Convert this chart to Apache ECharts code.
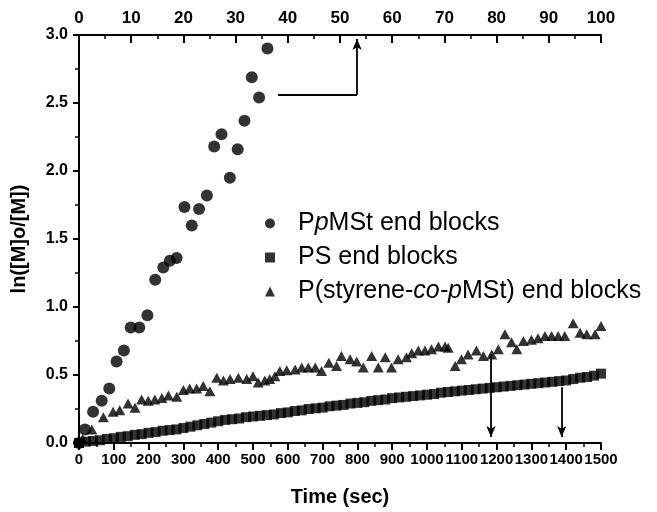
<html>
  <head>
    <meta charset="utf-8" />
    <title>ln([M]o/[M]) vs time</title>
    <script src="https://cdn.jsdelivr.net/npm/echarts@6/dist/echarts.min.js"></script>
  </head>
  <body style="margin:0;background:#fff;">
    <div id="main" style="width:657px;height:512px;"></div>
    <script type="text/javascript">
      // PpMSt end blocks, read against the top axis (0-100)
      var circleX = [0, 1.15, 2.7, 4.35, 5.8, 7.2, 8.6, 9.9, 11.55, 13.1, 14.6, 16.15, 17.4, 18.7,
        20.2, 21.6, 23.0, 24.5, 25.9, 27.3, 28.9, 30.4, 31.7, 33.1, 34.5, 36.1];
      var circleY = [0, 0.10, 0.23, 0.31, 0.40, 0.60, 0.68, 0.85, 0.85, 0.94, 1.20, 1.29, 1.34, 1.36,
        1.735, 1.60, 1.72, 1.82, 2.18, 2.27, 1.95, 2.16, 2.37, 2.69, 2.54, 2.90];

      // PS end blocks (sec)
      var squareX = [0, 20, 40, 60, 80, 100, 120, 140, 160, 180, 200, 220, 240, 260, 280, 300, 320, 340,
        360, 380, 400, 420, 440, 460, 480, 500, 520, 540, 560, 580, 600, 620, 640, 660, 680, 700, 720,
        740, 760, 780, 800, 820, 840, 860, 880, 900, 920, 940, 960, 980, 1000, 1020, 1040, 1060, 1080,
        1100, 1120, 1140, 1160, 1180, 1200, 1220, 1240, 1260, 1280, 1300, 1320, 1340, 1360, 1380, 1400,
        1420, 1440, 1460, 1480, 1500];
      var squareY = [0, 0.01, 0.015, 0.02, 0.03, 0.035, 0.045, 0.05, 0.06, 0.065, 0.075, 0.08, 0.09,
        0.095, 0.10, 0.11, 0.12, 0.13, 0.14, 0.15, 0.16, 0.17, 0.175, 0.18, 0.19, 0.195, 0.20, 0.205,
        0.21, 0.22, 0.225, 0.235, 0.24, 0.25, 0.255, 0.26, 0.27, 0.275, 0.28, 0.29, 0.295, 0.30, 0.31,
        0.315, 0.32, 0.33, 0.335, 0.34, 0.345, 0.35, 0.355, 0.36, 0.37, 0.375, 0.38, 0.385, 0.39, 0.395,
        0.40, 0.405, 0.41, 0.415, 0.42, 0.425, 0.43, 0.435, 0.44, 0.445, 0.45, 0.455, 0.46, 0.47, 0.48,
        0.485, 0.495, 0.51];

      // P(styrene-co-pMSt) end blocks (sec)
      var triX = [0, 10, 37, 70, 98, 117, 141, 161, 180, 199, 218, 238, 257, 281, 300, 318, 338, 357,
        376, 396, 415, 434, 458, 482, 500, 515, 534, 548, 563, 577, 597, 621, 640, 659, 679, 697, 718,
        740, 754, 779, 798, 817, 841, 860, 880, 898, 917, 941, 956, 975, 994, 1013, 1033, 1052, 1061,
        1081, 1099, 1118, 1142, 1162, 1186, 1205, 1224, 1243, 1258, 1277, 1300, 1319, 1339, 1358, 1377,
        1396, 1420, 1440, 1459, 1483, 1500];
      var triY = [0, 0.03, 0.10, 0.19, 0.23, 0.24, 0.29, 0.26, 0.32, 0.31, 0.32, 0.33, 0.35, 0.34, 0.39,
        0.40, 0.40, 0.42, 0.38, 0.48, 0.46, 0.47, 0.48, 0.47, 0.49, 0.445, 0.46, 0.47, 0.49, 0.53, 0.535,
        0.54, 0.555, 0.555, 0.555, 0.53, 0.59, 0.567, 0.64, 0.615, 0.60, 0.555, 0.64, 0.555, 0.63, 0.555,
        0.615, 0.63, 0.66, 0.68, 0.68, 0.69, 0.71, 0.71, 0.70, 0.567, 0.615, 0.65, 0.68, 0.64, 0.65, 0.69,
        0.80, 0.74, 0.69, 0.75, 0.76, 0.77, 0.786, 0.786, 0.786, 0.786, 0.88, 0.81, 0.80, 0.80, 0.86];

      var seriesNames = ['PpMSt end blocks', 'PS end blocks', 'P(styrene-co-pMSt) end blocks'];
      var yTicks = [0, 0.5, 1.0, 1.5, 2.0, 2.5, 3.0];

      // arrow annotations [x1, y1, x2, y2] in sec / ln units; last flag = draw arrow head
      var arrows = [
        [572, 2.56, 799, 2.56, false],
        [799, 2.56, 799, 2.97, true],
        [1184, 0.65, 1184, 0.045, true],
        [1387, 0.41, 1387, 0.045, true]
      ];

      function pairs(xs, ys) {
        return xs.map(function (x, i) { return [x, ys[i]]; });
      }

      var font = 'Liberation Sans, Arial, sans-serif';
      var myChart = echarts.init(document.getElementById('main'));

      var option = {
        animation: false,
        backgroundColor: '#fff',
        grid: { left: 79, right: 56, top: 35, bottom: 66 },
        legend: {
          orient: 'vertical',
          left: 260,
          top: 206,
          itemWidth: 10,
          itemHeight: 10,
          itemGap: 9,
          selectedMode: false,
          data: [
            { name: seriesNames[0], icon: 'circle' },
            { name: seriesNames[1], icon: 'rect' },
            { name: seriesNames[2], icon: 'triangle' }
          ],
          formatter: function (name) {
            if (name === seriesNames[0]) return '{g|}{n|P}{i|p}{n|MSt end blocks}';
            if (name === seriesNames[2]) return '{g|}{n|P(styrene-}{i|co-p}{n|MSt) end blocks}';
            return '{g|}{n|' + name + '}';
          },
          textStyle: {
            color: '#000',
            rich: {
              g: { width: 18 },
              n: { fontSize: 25, fontFamily: font, color: '#000' },
              i: { fontSize: 25, fontFamily: font, fontStyle: 'italic', color: '#000' }
            }
          }
        },
        xAxis: [
          {
            type: 'value',
            position: 'bottom',
            min: 0, max: 1500, interval: 100,
            name: 'Time (sec)',
            nameLocation: 'middle',
            nameGap: 44,
            nameTextStyle: { fontSize: 20, fontWeight: 'bold', fontFamily: font, color: '#000' },
            axisLine: { show: true, onZero: false, lineStyle: { color: '#000', width: 2 } },
            axisTick: { show: true, inside: false, length: 7, lineStyle: { color: '#000', width: 2 } },
            minorTick: { show: true, splitNumber: 2, length: 4, lineStyle: { color: '#000', width: 1.5 } },
            axisLabel: {
              margin: 9, fontSize: 15, fontWeight: 'bold', fontFamily: font, color: '#000',
              showMinLabel: true, showMaxLabel: true, hideOverlap: false,
              formatter: function (v) { return String(v); }
            },
            splitLine: { show: false }
          },
          {
            type: 'value',
            position: 'top',
            min: 0, max: 100, interval: 10,
            axisLine: { show: true, onZero: false, lineStyle: { color: '#000', width: 2 } },
            axisTick: { show: true, inside: true, length: 8, lineStyle: { color: '#000', width: 2 } },
            minorTick: { show: true, splitNumber: 2, length: 4, lineStyle: { color: '#000', width: 1.5 } },
            axisLabel: {
              margin: 8, fontSize: 17, fontWeight: 'bold', fontFamily: font, color: '#000',
              showMinLabel: true, showMaxLabel: true
            },
            splitLine: { show: false }
          }
        ],
        yAxis: {
          type: 'value',
          min: yTicks[0], max: yTicks[yTicks.length - 1], interval: 0.5,
          name: 'ln([M]o/[M])',
          nameLocation: 'middle',
          nameGap: 50,
          nameTextStyle: { fontSize: 20, fontWeight: 'bold', fontFamily: font, color: '#000' },
          axisLine: { show: true, onZero: false, lineStyle: { color: '#000', width: 2 } },
          axisTick: { show: true, inside: false, length: 6, lineStyle: { color: '#000', width: 2 } },
          minorTick: { show: true, splitNumber: 2, length: 4, lineStyle: { color: '#000', width: 1.5 } },
          axisLabel: {
            margin: 11, fontSize: 16, fontWeight: 'bold', fontFamily: font, color: '#000',
            formatter: function (v) { return v.toFixed(1); }
          },
          splitLine: { show: false }
        },
        series: [
          {
            name: seriesNames[1],
            type: 'scatter',
            xAxisIndex: 0,
            symbol: 'rect',
            symbolSize: 10,
            itemStyle: { color: '#000' },
            data: pairs(squareX, squareY),
            markLine: {
              silent: true,
              symbol: ['none', 'arrow'],
              symbolSize: [7, 11],
              label: { show: false },
              lineStyle: { color: '#000', width: 1.8, type: 'solid' },
              data: arrows.map(function (a) {
                return [
                  { coord: [a[0], a[1]], symbol: 'none' },
                  { coord: [a[2], a[3]], symbol: a[4] ? 'arrow' : 'none' }
                ];
              })
            }
          },
          {
            name: seriesNames[2],
            type: 'scatter',
            xAxisIndex: 0,
            symbol: 'triangle',
            symbolSize: [11, 10],
            itemStyle: { color: '#000' },
            data: pairs(triX, triY)
          },
          {
            name: seriesNames[0],
            type: 'scatter',
            xAxisIndex: 1,
            symbol: 'circle',
            symbolSize: 12,
            itemStyle: { color: '#000' },
            data: pairs(circleX, circleY)
          }
        ]
      };

      myChart.setOption(option);
    </script>
  </body>
</html>
